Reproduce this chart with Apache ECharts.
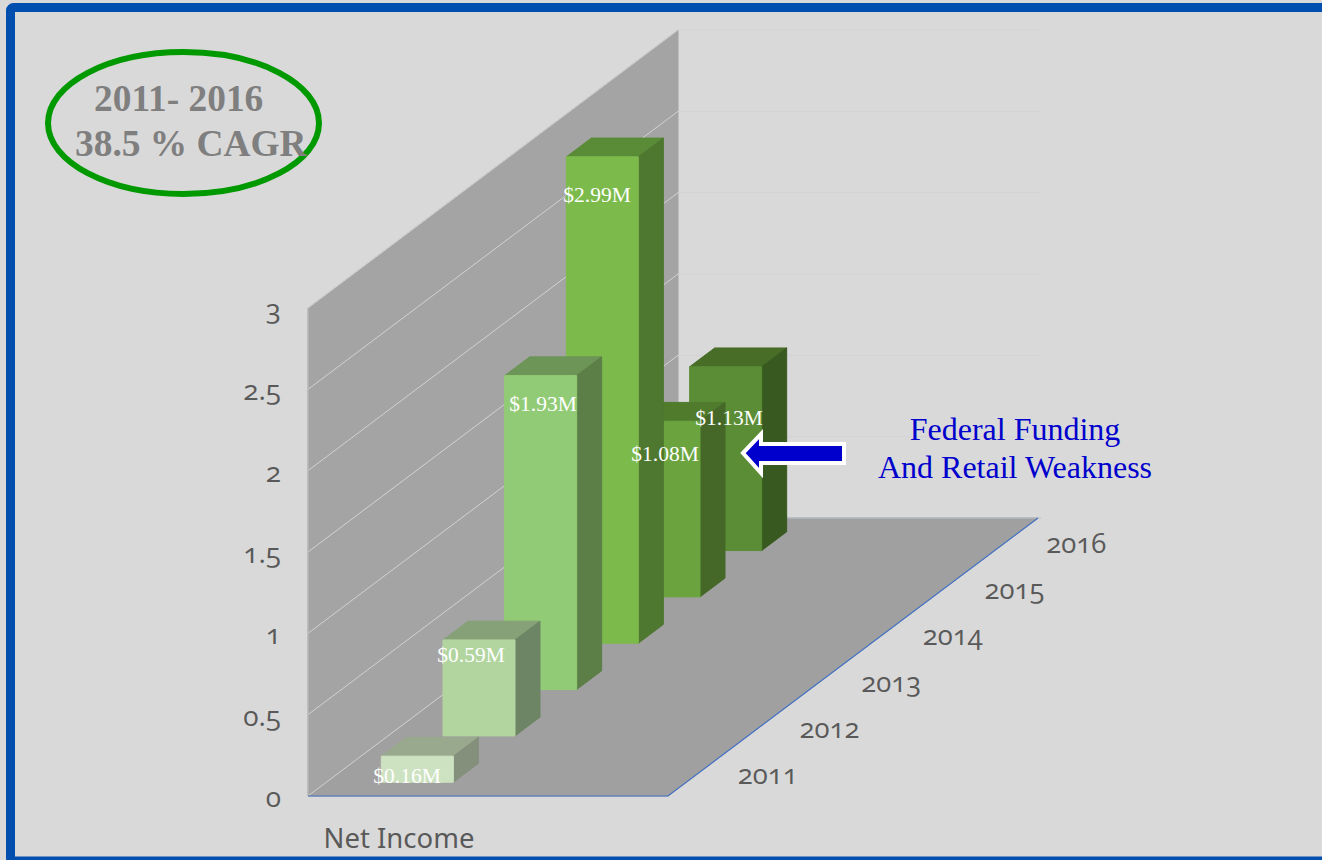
<!DOCTYPE html>
<html>
<head>
<meta charset="utf-8">
<style>
  html, body { margin: 0; padding: 0; background: #d9d9d9; }
  #chart { width: 1322px; height: 860px; }
  #chart text { font-feature-settings: "onum" 1; }
</style>
<script src="https://cdn.jsdelivr.net/npm/echarts@6/dist/echarts.min.js"></script>
</head>
<body>
<div id="chart"></div>
<script>
// Net income per year, in $M
const years = ['2011', '2012', '2013', '2014', '2015', '2016'];
const netIncome = [0.16, 0.59, 1.93, 2.99, 1.08, 1.13];
const valueTicks = [0, 0.5, 1, 1.5, 2, 2.5, 3];

// Bar face colours per year
const frontColors = ['#cde2c0', '#b2d59f', '#92cb75', '#7cba4b', '#6ba43f', '#5a8d35'];
const topColors = ['#99a98e', '#86a078', '#6e9558', '#5a8b37', '#507b2d', '#476d27'];
const sideColors = ['#848f7c', '#6d8564', '#5c7e47', '#4e772f', '#456829', '#385a20'];

// Oblique projection of the depth axis
const SLOPE = 278 / 370;       // vertical rise per pixel of depth
const WALL_X = 308;            // left edge of the plot
const FLOOR_W = 360;           // width of the floor along the front edge
const BAR_W = 72;              // bar width
const BAR_DX = 25;             // bar depth, horizontal extent
const BAR_OFFSET = 55;         // bar inset from the side wall

// Pixel placement of the value captions, in the same order as years
const captionAt = [[407, 776], [471, 655], [543, 404], [597, 195], [665, 454], [729, 418]];

const sansFont = 'Open Sans';

function pt(dp, w, h, base) {
  return [WALL_X + dp + w, base - SLOPE * dp - h];
}
function poly(points, fill, stroke) {
  return { type: 'polygon', shape: { points }, style: { fill, stroke: stroke || fill, lineWidth: 1 } };
}

// Side wall, floor, back wall and their gridlines
function renderPlanes(params, api) {
  const base = api.coord([0, 0])[1];
  const band = api.size([1, 0])[0];
  const D = band * years.length;
  const kids = [];
  const top = api.coord([0, 3])[1] - base;
  kids.push(poly([pt(0, 0, 0, base), pt(D, 0, 0, base), pt(D, 0, -top, base), pt(0, 0, -top, base)], '#a4a4a4'));
  kids.push(poly([pt(0, 0, 0, base), pt(0, FLOOR_W, 0, base), pt(D, FLOOR_W, 0, base), pt(D, 0, 0, base)], '#a0a0a0'));
  valueTicks.forEach(function (t) {
    const h = base - api.coord([0, t])[1];
    const s = pt(0, 0, h, base), e = pt(D, 0, h, base), f = pt(D, FLOOR_W + 3, h, base);
    kids.push({ type: 'line', shape: { x1: s[0], y1: s[1], x2: e[0], y2: e[1] }, style: { stroke: '#d2d2d2', lineWidth: 1 } });
    kids.push({ type: 'line', shape: { x1: e[0], y1: e[1], x2: f[0], y2: f[1] }, style: { stroke: t > 0 ? '#d3d3d3' : '#b9bfc9', lineWidth: 1 } });
  });
  kids.push({ type: 'line', shape: { x1: WALL_X, y1: base, x2: WALL_X, y2: base + top }, style: { stroke: '#bdbdbd', lineWidth: 1 } });
  const a = pt(0, 0, 0, base), b = pt(0, FLOOR_W, 0, base), c = pt(D, FLOOR_W, 0, base);
  kids.push({ type: 'polyline', shape: { points: [a, b, c] }, style: { fill: 'none', stroke: '#4472c4', lineWidth: 1.2 } });
  return { type: 'group', children: kids };
}

// One oblique box per year, with the height taken from the value axis
function renderBar(params, api) {
  const i = api.value(0);
  const c0 = api.coord([i, 0]);
  const h = c0[1] - api.coord([i, api.value(1)])[1];
  const dp = c0[0] - WALL_X - BAR_DX / 2;
  const base = c0[1];
  const x0 = BAR_OFFSET, x1 = BAR_OFFSET + BAR_W;
  const d2 = dp + BAR_DX;
  return {
    type: 'group',
    children: [
      poly([pt(dp, x0, h, base), pt(dp, x1, h, base), pt(d2, x1, h, base), pt(d2, x0, h, base)], topColors[i]),
      poly([pt(dp, x1, 0, base), pt(d2, x1, 0, base), pt(d2, x1, h, base), pt(dp, x1, h, base)], sideColors[i]),
      poly([pt(dp, x0, 0, base), pt(dp, x1, 0, base), pt(dp, x1, h, base), pt(dp, x0, h, base)], frontColors[i])
    ]
  };
}

// Year labels running along the right floor edge
function renderYear(params, api) {
  const i = api.value(0);
  const c0 = api.coord([i, 0]);
  const p = pt(c0[0] - WALL_X, FLOOR_W, 0, c0[1]);
  return {
    type: 'text',
    style: {
      x: p[0] + 69, y: p[1] + 1,
      text: years[i],
      fontFamily: sansFont, fontSize: 27.5, padding: [6, 0, 0, 0],
      fill: '#595959', align: 'center', verticalAlign: 'middle'
    }
  };
}

const serif = '"Liberation Serif"';
const graphics = [
  { type: 'rect', z: 0, shape: { x: 10.5, y: 7.5, width: 1330, height: 853.5, r: 3 },
    style: { fill: 'none', stroke: '#004eae', lineWidth: 9 } },
  { type: 'ellipse', z: 50, shape: { cx: 183.5, cy: 123, rx: 135.5, ry: 71 },
    style: { fill: 'none', stroke: '#009900', lineWidth: 6 } },
  { type: 'text', z: 51, style: { x: 94, y: 98, text: '2011- 2016', font: 'bold 37.4px ' + serif, fill: '#7f7f7f', verticalAlign: 'middle' } },
  { type: 'text', z: 51, style: { x: 75, y: 143, text: '38.5 % CAGR', font: 'bold 37.4px ' + serif, fill: '#7f7f7f', verticalAlign: 'middle' } },
  { type: 'polygon', z: 52, shape: { points: [[743, 453], [761, 434], [761, 444], [844, 444], [844, 463], [761, 463], [761, 473]] },
    style: { fill: '#0000cc', stroke: '#ffffff', lineWidth: 4, lineJoin: 'miter' } },
  { type: 'text', z: 52, style: { x: 1015, y: 429, text: 'Federal Funding', font: '32px ' + serif, fill: '#0000cc', align: 'center', verticalAlign: 'middle' } },
  { type: 'text', z: 52, style: { x: 1015, y: 467, text: 'And Retail Weakness', font: '32px ' + serif, fill: '#0000cc', align: 'center', verticalAlign: 'middle' } },
  { type: 'text', z: 52, style: { x: 399, y: 837, text: 'Net Income', font: '27.5px Noto Sans', fill: '#595959', align: 'center', verticalAlign: 'middle' } }
];
netIncome.forEach(function (v, i) {
  graphics.push({ type: 'text', z: 53, style: {
    x: captionAt[i][0], y: captionAt[i][1],
    text: '$' + v.toFixed(2) + 'M',
    font: '21.5px ' + serif, fill: '#ffffff', align: 'center', verticalAlign: 'middle'
  } });
});

const chart = echarts.init(document.getElementById('chart'), null, { renderer: 'svg' });
chart.setOption({
  animation: false,
  backgroundColor: '#d9d9d9',
  grid: { left: WALL_X, top: 308, width: 370, height: 488 },
  xAxis: { type: 'category', data: years, show: false, boundaryGap: true },
  yAxis: {
    type: 'value', min: 0, max: 3, interval: 0.5,
    axisLine: { show: false }, axisTick: { show: false }, splitLine: { show: false },
    axisLabel: { margin: 27, color: '#595959', fontFamily: sansFont, fontSize: 28, padding: [12, 0, 0, 0] }
  },
  series: [
    { type: 'custom', silent: true, z: 1, renderItem: renderPlanes, data: [[0, 0]], clip: false },
    { type: 'custom', silent: true, z: 2, renderItem: renderBar, clip: false,
      data: years.map(function (y, i) { return [i, netIncome[i]]; }).reverse() },
    { type: 'custom', silent: true, z: 3, renderItem: renderYear, clip: false,
      data: years.map(function (y, i) { return [i, 0]; }) }
  ],
  graphic: graphics
});
</script>
</body>
</html>
